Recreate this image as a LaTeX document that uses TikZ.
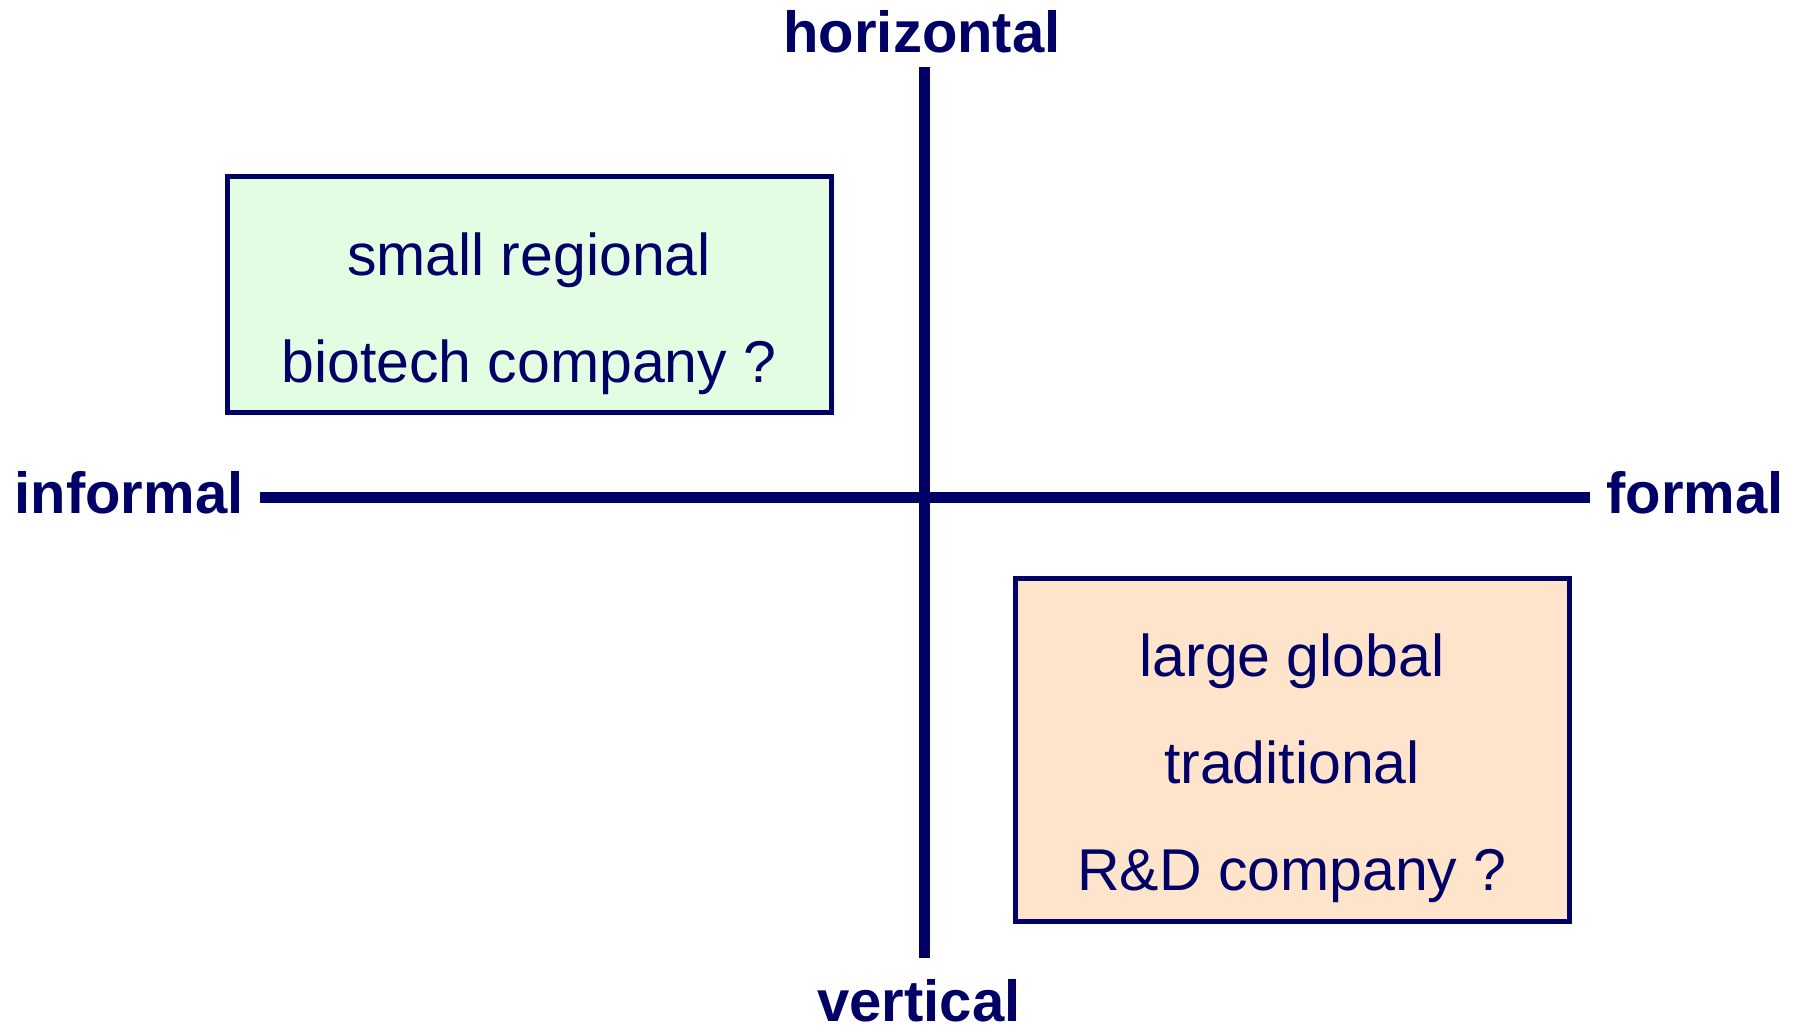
\documentclass[tikz,border=0pt]{standalone}
\usepackage{fontspec}
\setmainfont{Liberation Sans}
\usepackage{tikz}
\usetikzlibrary{shapes,positioning,calc}
\definecolor{navy}{RGB}{0,0,102}
\definecolor{verdino}{RGB}{227,253,227}
\definecolor{pesca}{RGB}{255,228,204}
\tikzstyle{casella} = [rectangle, line width=2.5pt, draw=navy, inner sep=0pt]
\tikzstyle{testo} = [align=center, inner sep=0pt, text=navy, font=\fontsize{29.5pt}{53.5pt}\selectfont]
\tikzstyle{asselabel} = [inner sep=0pt, anchor=base, text=navy, font=\fontsize{29pt}{34pt}\selectfont\bfseries]
\tikzstyle{asse} = [line width=5.5pt, draw=navy]

\begin{document}
\begin{tikzpicture}[x=0.5pt,y=-0.5pt]
						\useasboundingbox (0,0) rectangle (1803,1029);
						% assi
						\coordinate (top) at (924,67);
						\coordinate (bottom) at (924,958);
						\coordinate (left) at (260,497);
						\coordinate (right) at (1590,497);
						\draw[asse] (top) -- (bottom);
						\draw[asse] (left) -- (right);
						\node (hor) at (922,52) [asselabel] {horizontal};
						\node (ver) at (919,1021) [asselabel] {vertical};
						\node (inf) at (129,513) [asselabel] {informal};
						\node (for) at (1695,513) [asselabel] {formal};
						% caselle
						\node (small) at (529,294) [casella, fill=verdino, minimum width=302pt, minimum height=118pt] {};
						\node (smalltxt) at (529,314) [testo] {small regional\\biotech company ?};
						\node (large) at (1292,749.5) [casella, fill=pesca, minimum width=277pt, minimum height=171.5pt] {};
						\node (largetxt) at (1292,768) [testo] {large global\\traditional\\R\&D company ?};
					\end{tikzpicture}
\end{document}
